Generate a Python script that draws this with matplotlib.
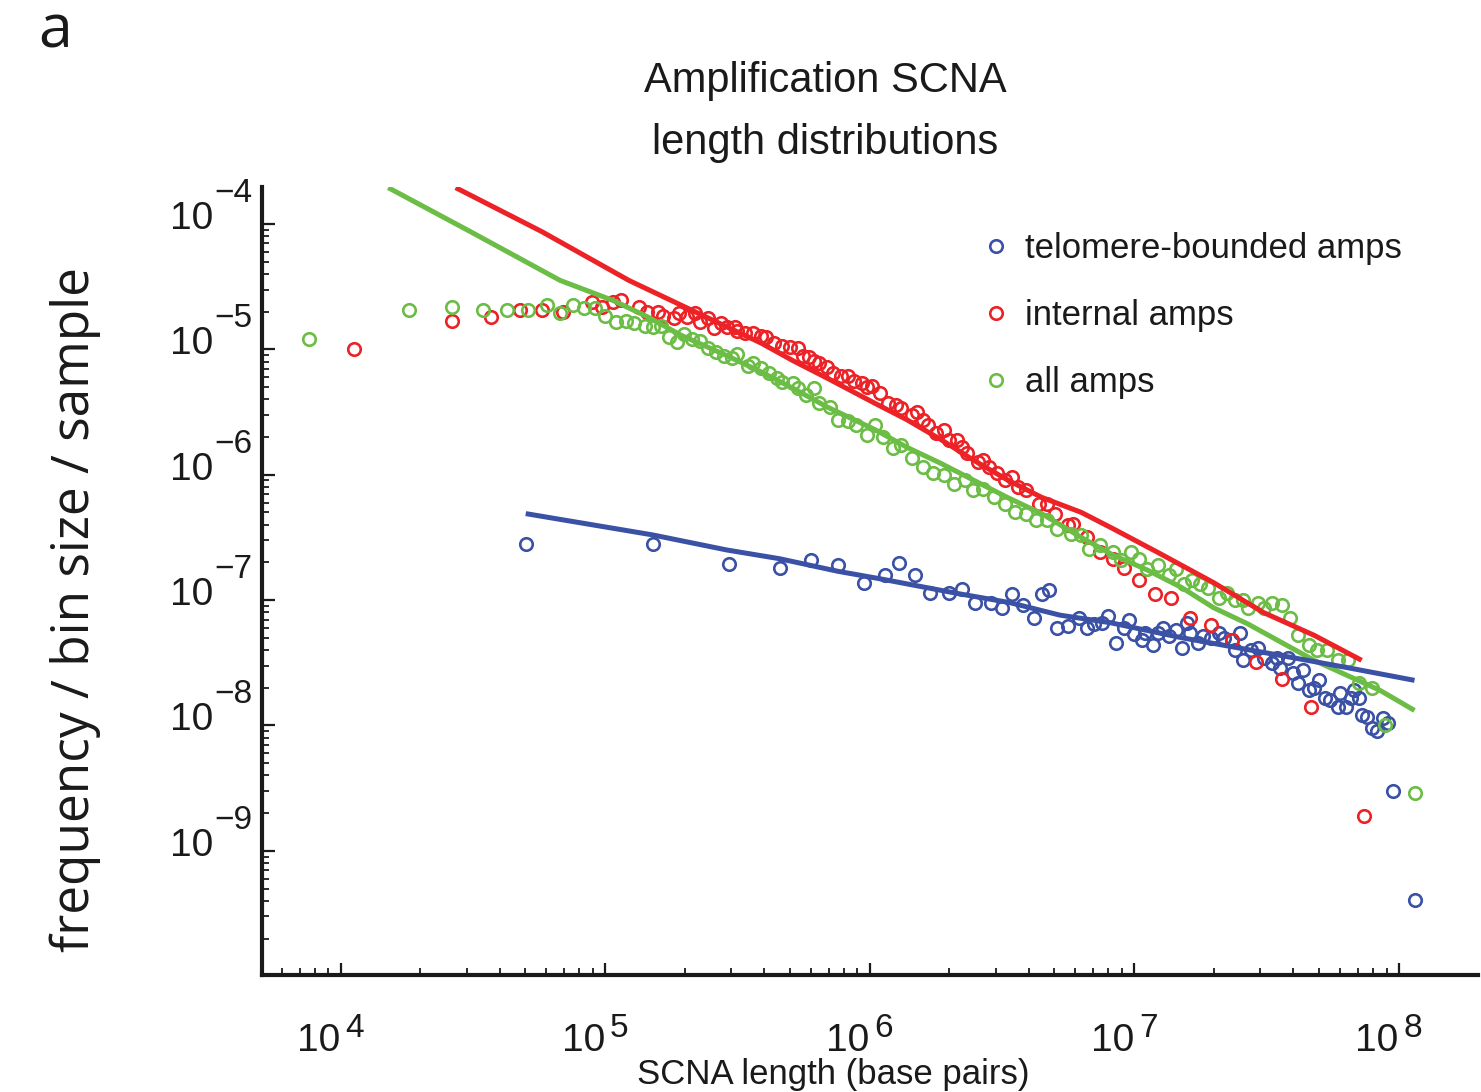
import numpy as np
import matplotlib
matplotlib.use("Agg")
import matplotlib.pyplot as plt
import matplotlib.transforms as mtransforms
from matplotlib.ticker import LogLocator, NullFormatter

# values, stored as log10(x), log10(y)
telo_logx = [4.70, 5.18, 5.47, 5.66, 5.78, 5.88, 5.98, 6.06, 6.11, 6.17, 6.23, 6.30, 6.35, 6.40,
             6.46, 6.50, 6.54, 6.58, 6.62, 6.65, 6.68, 6.71, 6.75, 6.79, 6.82, 6.85, 6.88, 6.90,
             6.93, 6.96, 6.98, 7.00, 7.03, 7.04, 7.07, 7.09, 7.11, 7.13, 7.16, 7.18, 7.20, 7.21,
             7.24, 7.26, 7.29, 7.32, 7.34, 7.37, 7.38, 7.40, 7.41, 7.44, 7.47, 7.49, 7.52, 7.54,
             7.55, 7.58, 7.60, 7.62, 7.64, 7.66, 7.68, 7.70, 7.72, 7.74, 7.77, 7.78, 7.80, 7.82,
             7.83, 7.85, 7.86, 7.88, 7.90, 7.92, 7.94, 7.96, 7.98, 8.06]
telo_logy = [-6.55, -6.55, -6.71, -6.74, -6.68, -6.72, -6.86, -6.80, -6.70, -6.80, -6.94, -6.94,
             -6.91, -7.02, -7.02, -7.06, -6.95, -7.04, -7.14, -6.95, -6.92, -7.22, -7.21, -7.14,
             -7.22, -7.19, -7.18, -7.13, -7.34, -7.22, -7.16, -7.27, -7.32, -7.26, -7.36, -7.26,
             -7.22, -7.29, -7.24, -7.38, -7.18, -7.26, -7.34, -7.29, -7.30, -7.26, -7.30, -7.32,
             -7.40, -7.26, -7.48, -7.40, -7.38, -7.46, -7.50, -7.46, -7.54, -7.46, -7.58, -7.66,
             -7.56, -7.72, -7.70, -7.64, -7.78, -7.80, -7.85, -7.74, -7.85, -7.78, -7.72, -7.78,
             -7.92, -7.93, -8.02, -8.04, -7.94, -7.98, -8.52, -9.39]

internal_logx = [4.05, 4.42, 4.57, 4.68, 4.76, 4.84, 4.95, 4.99, 5.03, 5.06, 5.13, 5.16, 5.20,
                 5.22, 5.26, 5.28, 5.31, 5.34, 5.36, 5.39, 5.41, 5.44, 5.46, 5.49, 5.50, 5.53,
                 5.56, 5.59, 5.61, 5.64, 5.67, 5.70, 5.73, 5.75, 5.77, 5.79, 5.81, 5.84, 5.86,
                 5.89, 5.92, 5.94, 5.97, 5.99, 6.01, 6.04, 6.07, 6.10, 6.12, 6.16, 6.18, 6.20,
                 6.22, 6.25, 6.28, 6.30, 6.33, 6.35, 6.37, 6.41, 6.43, 6.45, 6.48, 6.51, 6.54,
                 6.56, 6.59, 6.64, 6.67, 6.70, 6.75, 6.77, 6.82, 6.87, 6.92, 6.96, 7.02, 7.08,
                 7.14, 7.21, 7.29, 7.37, 7.46, 7.56, 7.67, 7.87]
internal_logy = [-5.00, -4.77, -4.74, -4.69, -4.69, -4.70, -4.62, -4.66, -4.62, -4.61, -4.66,
                 -4.70, -4.70, -4.73, -4.75, -4.71, -4.74, -4.71, -4.78, -4.75, -4.83, -4.79,
                 -4.82, -4.82, -4.85, -4.87, -4.87, -4.89, -4.90, -4.95, -4.97, -4.98, -4.99,
                 -5.05, -5.06, -5.09, -5.11, -5.14, -5.19, -5.21, -5.21, -5.25, -5.27, -5.30,
                 -5.29, -5.35, -5.43, -5.44, -5.47, -5.52, -5.50, -5.56, -5.60, -5.67, -5.64,
                 -5.72, -5.72, -5.78, -5.83, -5.90, -5.88, -5.94, -5.99, -6.04, -6.02, -6.10,
                 -6.12, -6.23, -6.23, -6.31, -6.40, -6.39, -6.50, -6.62, -6.67, -6.74, -6.84,
                 -6.95, -6.98, -7.14, -7.20, -7.32, -7.49, -7.63, -7.85, -8.72]

all_logx = [3.88, 4.26, 4.42, 4.54, 4.63, 4.71, 4.78, 4.83, 4.88, 4.92, 4.96, 5.00, 5.04, 5.08,
            5.11, 5.15, 5.18, 5.21, 5.24, 5.27, 5.30, 5.33, 5.36, 5.39, 5.42, 5.45, 5.48, 5.50,
            5.54, 5.56, 5.59, 5.62, 5.65, 5.67, 5.71, 5.73, 5.76, 5.79, 5.81, 5.85, 5.88, 5.92,
            5.95, 5.99, 6.02, 6.05, 6.09, 6.12, 6.16, 6.20, 6.24, 6.28, 6.32, 6.36, 6.39, 6.43,
            6.47, 6.51, 6.55, 6.59, 6.63, 6.67, 6.71, 6.76, 6.80, 6.83, 6.87, 6.92, 6.95, 6.99,
            7.02, 7.05, 7.09, 7.13, 7.16, 7.19, 7.22, 7.25, 7.28, 7.32, 7.35, 7.38, 7.41, 7.43,
            7.47, 7.49, 7.52, 7.56, 7.59, 7.62, 7.66, 7.69, 7.73, 7.77, 7.81, 7.85, 7.90, 7.95,
            8.06]
all_logy = [-4.92, -4.69, -4.66, -4.69, -4.69, -4.69, -4.65, -4.71, -4.65, -4.67, -4.67, -4.73,
            -4.78, -4.77, -4.79, -4.81, -4.82, -4.81, -4.90, -4.94, -4.88, -4.92, -4.93, -4.99,
            -5.02, -5.05, -5.07, -5.04, -5.13, -5.11, -5.15, -5.19, -5.23, -5.26, -5.27, -5.31,
            -5.36, -5.31, -5.43, -5.46, -5.56, -5.57, -5.60, -5.68, -5.60, -5.70, -5.79, -5.76,
            -5.87, -5.94, -5.99, -6.00, -6.07, -6.04, -6.12, -6.11, -6.18, -6.23, -6.30, -6.31,
            -6.36, -6.36, -6.43, -6.47, -6.48, -6.59, -6.56, -6.62, -6.68, -6.62, -6.67, -6.75,
            -6.72, -6.80, -6.75, -6.87, -6.84, -6.87, -6.90, -6.98, -6.94, -7.00, -7.00, -7.06,
            -7.02, -7.06, -7.02, -7.04, -7.14, -7.28, -7.36, -7.40, -7.40, -7.48, -7.48, -7.66,
            -7.70, -8.00, -8.54]

# fitted curves
telo_fit_logx = [4.70, 5.18, 5.46, 5.66, 5.88, 6.04, 6.34, 6.53, 6.72, 6.91, 7.18, 7.55, 7.81, 8.06]
telo_fit_logy = [-6.31, -6.48, -6.60, -6.67, -6.77, -6.83, -6.95, -7.02, -7.12, -7.18, -7.30,
                 -7.44, -7.54, -7.64]
internal_fit_logx = [4.435, 4.76, 5.09, 5.31, 5.46, 5.59, 5.71, 5.84, 6.02, 6.14, 6.27, 6.39,
                     6.52, 6.65, 6.80, 6.92, 7.09, 7.30, 7.49, 7.68, 7.86]
internal_fit_logy = [-3.71, -4.06, -4.45, -4.67, -4.82, -4.95, -5.09, -5.23, -5.43, -5.56, -5.72,
                     -5.88, -6.04, -6.18, -6.30, -6.43, -6.62, -6.86, -7.10, -7.28, -7.48]
all_fit_logx = [4.18, 4.49, 4.83, 5.03, 5.16, 5.29, 5.46, 5.59, 5.71, 5.84, 6.02, 6.14, 6.27,
                6.39, 6.52, 6.65, 6.80, 6.92, 7.05, 7.18, 7.30, 7.43, 7.68, 7.93, 8.06]
all_fit_logy = [-3.71, -4.06, -4.45, -4.61, -4.74, -4.89, -5.05, -5.18, -5.31, -5.46, -5.64,
                -5.78, -5.91, -6.04, -6.18, -6.31, -6.50, -6.64, -6.76, -6.90, -7.06, -7.19,
                -7.48, -7.72, -7.88]

series_labels = ["telomere-bounded amps", "internal amps", "all amps"]
x_decades = [4, 5, 6, 7, 8]
y_decades = [-4, -5, -6, -7, -8, -9]

blue = "#3a51a5"
red = "#ec2227"
green = "#6bbd45"
ink = "#1a1a1a"
narrow = ["Liberation Sans", "DejaVu Sans"]

fig = plt.figure(figsize=(14.81, 10.92), dpi=100)
ax = fig.add_axes([262 / 1481, 1 - 975 / 1092, 1216 / 1481, 788 / 1092])

mk = dict(linestyle="none", marker="o", markerfacecolor="none", markersize=9,
          markeredgewidth=1.9)
h_telo, = ax.plot(10 ** np.array(telo_logx), 10 ** np.array(telo_logy), color=blue, **mk)
h_int, = ax.plot(10 ** np.array(internal_logx), 10 ** np.array(internal_logy), color=red, **mk)
h_all, = ax.plot(10 ** np.array(all_logx), 10 ** np.array(all_logy), color=green, **mk)

ax.plot(10 ** np.array(internal_fit_logx), 10 ** np.array(internal_fit_logy), color=red, lw=3.6,
        solid_capstyle="butt")
ax.plot(10 ** np.array(all_fit_logx), 10 ** np.array(all_fit_logy), color=green, lw=3.6,
        solid_capstyle="butt")
ax.plot(10 ** np.array(telo_fit_logx), 10 ** np.array(telo_fit_logy), color=blue, lw=3.6,
        solid_capstyle="butt")

ax.set_xscale("log")
ax.set_yscale("log")
ax.set_xlim(10 ** 3.703, 10 ** 8.30)
ax.set_ylim(10 ** -9.99, 10 ** -3.705)

for s in ["top", "right"]:
    ax.spines[s].set_visible(False)
for s in ["left", "bottom"]:
    ax.spines[s].set_linewidth(3.0)
    ax.spines[s].set_color(ink)

ax.xaxis.set_major_locator(LogLocator(base=10, numticks=20))
ax.yaxis.set_major_locator(LogLocator(base=10, numticks=20))
ax.xaxis.set_minor_locator(LogLocator(base=10, subs=np.arange(2, 10), numticks=50))
ax.yaxis.set_minor_locator(LogLocator(base=10, subs=np.arange(2, 10), numticks=50))
for axis in (ax.xaxis, ax.yaxis):
    axis.set_major_formatter(NullFormatter())
    axis.set_minor_formatter(NullFormatter())
ax.tick_params(which="major", direction="in", length=9, width=1.6, color=ink)
ax.tick_params(which="minor", direction="in", length=5, width=1.3, color=ink)

# tick labels as "10" with a large superscript, like the original
tick_fs = 28
exp_fs = 24
xt = ax.get_xaxis_transform()
for e in x_decades:
    ax.text(10 ** e, 0, "10", transform=mtransforms.offset_copy(xt, fig, x=0, y=-76, units="dots"),
            ha="right", va="baseline", fontsize=tick_fs, family=narrow, color=ink)
    ax.text(10 ** e, 0, str(e), transform=mtransforms.offset_copy(xt, fig, x=5, y=-62, units="dots"),
            ha="left", va="baseline", fontsize=exp_fs, family=narrow, color=ink)
yt = ax.get_yaxis_transform()
for e in y_decades:
    ax.text(0, 10 ** e, "10", transform=mtransforms.offset_copy(yt, fig, x=-49, y=-5, units="dots"),
            ha="right", va="baseline", fontsize=tick_fs, family=narrow, color=ink)
    ax.text(0, 10 ** e, "\u2212" + str(-e),
            transform=mtransforms.offset_copy(yt, fig, x=-48, y=22, units="dots"),
            ha="left", va="baseline", fontsize=exp_fs, family=narrow, color=ink)

leg = ax.legend([h_telo, h_int, h_all], series_labels, loc="upper left",
                bbox_to_anchor=(0.592, 0.943), frameon=False, numpoints=1, handlelength=0.8,
                handletextpad=0.45, labelspacing=0.98, borderaxespad=0, borderpad=0,
                prop={"family": narrow, "size": 25})
for t in leg.get_texts():
    t.set_color(ink)

fig.text(825 / 1481, 1 - 112 / 1092, "Amplification SCNA\nlength distributions", ha="center",
         va="center", fontsize=30, family=narrow, linespacing=1.72, color=ink)
fig.text(833 / 1481, 1 - 1084 / 1092, "SCNA length (base pairs)", ha="center", va="baseline",
         fontsize=25, family=narrow, color=ink)
fig.text(75 / 1481, 1 - 610 / 1092, "frequency / bin size / sample", rotation=90, ha="center",
         va="center", fontsize=37, family=["Open Sans", "DejaVu Sans"], color=ink)
fig.text(55 / 1481, 1 - 32 / 1092, "a", ha="center", va="center", fontsize=44,
         family=["Open Sans", "DejaVu Sans"], color=ink)

fig.savefig("out.png", dpi=100)
